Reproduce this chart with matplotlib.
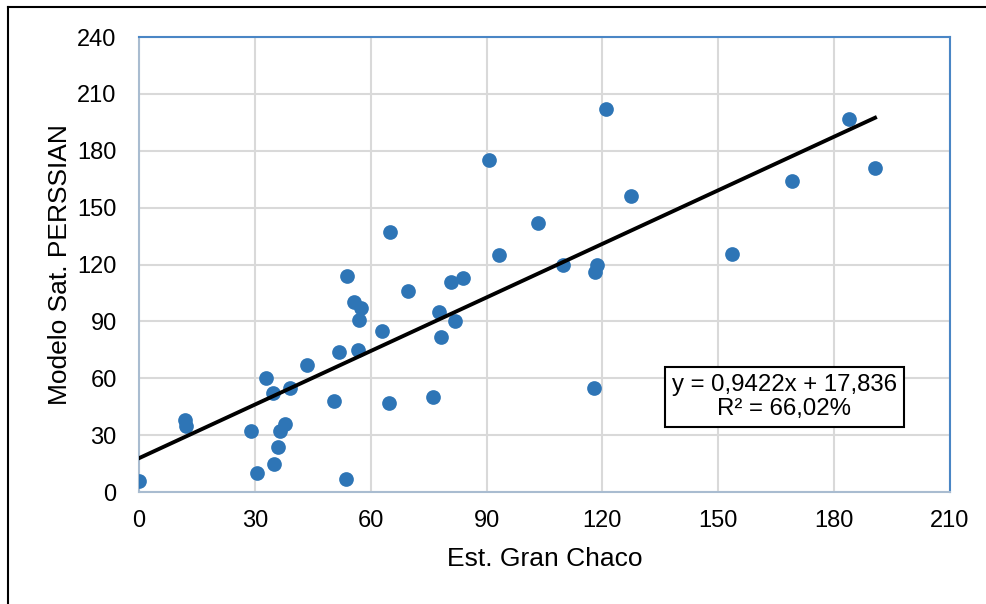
import numpy as np
import matplotlib.pyplot as plt
from matplotlib.lines import Line2D

plt.rcParams['font.family'] = ['Liberation Sans', 'DejaVu Sans']

# valores
est_chaco = [0, 11.8, 12.2, 29.0, 30.6, 33.0, 34.8, 35.0, 36.1, 36.6, 37.9, 39.2,
             43.6, 50.4, 51.7, 53.5, 53.8, 55.8, 56.6, 57.4, 57.1, 62.9, 64.7,
             64.9, 69.6, 76.1, 77.7, 78.2, 80.8, 81.8, 83.9, 90.6, 93.2, 103.4,
             109.9, 117.7, 118.2, 118.7, 121.0, 127.5, 153.5, 169.1, 183.9, 190.6]
persiann = [6, 38, 35, 32, 10, 60, 52, 15, 24, 32, 36, 55,
            67, 48, 74, 7, 114, 100, 75, 97, 91, 85, 47,
            137, 106, 50, 95, 82, 111, 90, 113, 175, 125, 142,
            120, 55, 116, 120, 202, 156, 125.5, 164, 197, 171]
pendiente = 0.9422
ordenada = 17.836
r2_txt = 'R² = 66,02%'
xticks = [0, 30, 60, 90, 120, 150, 180, 210]
yticks = [0, 30, 60, 90, 120, 150, 180, 210, 240]

fig = plt.figure(figsize=(9.87, 6.04), dpi=100)
ax = fig.add_axes([0.1408, 0.1854, 0.8217, 0.7533])

ax.grid(True, color='#D9D9D9', lw=1.5)
ax.set_axisbelow(True)
ax.scatter(est_chaco, persiann, s=112, color='#2E75B6', zorder=3, linewidths=0)

xl = np.array([0, max(est_chaco)])
ax.plot(xl, pendiente * xl + ordenada, color='black', lw=2.8, zorder=4)

ax.set_xlim(0, 210)
ax.set_ylim(0, 240)
ax.set_xticks(xticks)
ax.set_yticks(yticks)
ax.tick_params(length=0, labelsize=17, colors='black')
ax.tick_params(axis='x', pad=13)
ax.tick_params(axis='y', pad=16)

for s in ['left', 'bottom']:
    ax.spines[s].set_color('#A9BCD0')
    ax.spines[s].set_linewidth(1.5)
for s in ['top', 'right']:
    ax.spines[s].set_color('#4A86C5')
    ax.spines[s].set_linewidth(1.5)

ax.set_xlabel('Est. Gran Chaco', fontsize=19, labelpad=11)
ax.set_ylabel('Modelo Sat. PERSSIAN', fontsize=19, labelpad=4)

ax.text(167.1, 50.1, 'y = 0,9422x + 17,836\n' + r2_txt, fontsize=17.3,
        ha='center', va='center', linespacing=1.12, zorder=5,
        bbox=dict(boxstyle='square,pad=0.28', fc='white', ec='black', lw=1.5))

# marco exterior (solo superior e izquierdo visibles)
fig.add_artist(Line2D([8 / 987, 1], [1 - 7 / 604, 1 - 7 / 604], color='black', lw=1.5,
                      transform=fig.transFigure))
fig.add_artist(Line2D([8 / 987, 8 / 987], [0, 1 - 7 / 604], color='black', lw=1.5,
                      transform=fig.transFigure))

fig.savefig('out.png', dpi=100)
